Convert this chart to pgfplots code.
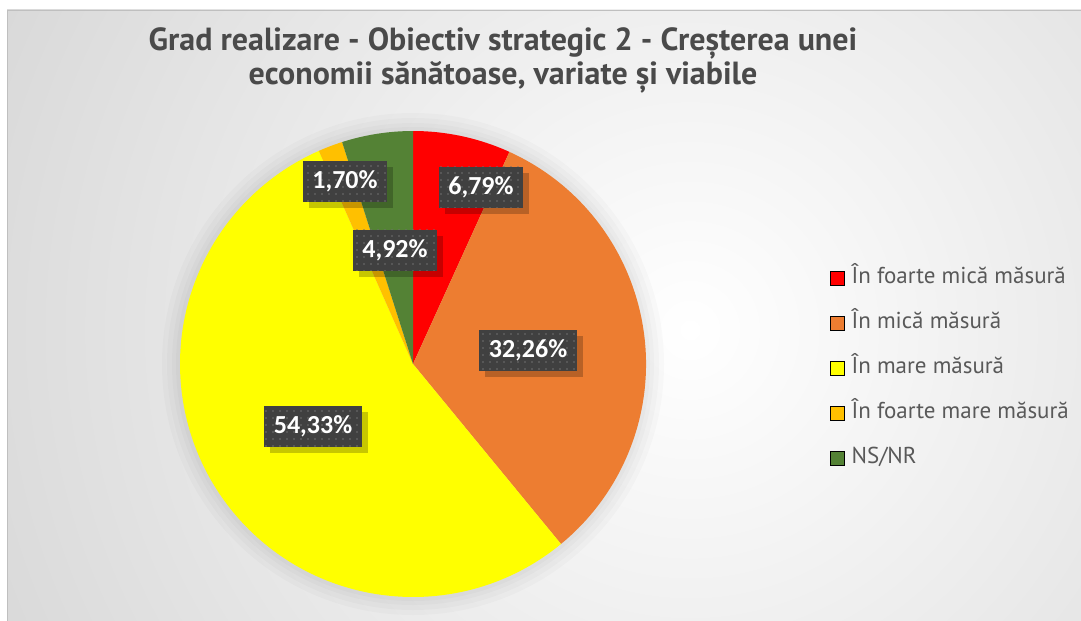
\documentclass[border=0pt]{standalone}
\usepackage{pgfplots}
\pgfplotsset{compat=1.18}
\usepackage{pgfplotstable}
\usepackage{fontspec}
\setmainfont{PT Sans}
\newfontfamily\labfont{Carlito}
\usetikzlibrary{shadows,patterns.meta}
\definecolor{cRed}{HTML}{FF0000}
\definecolor{cOrange}{HTML}{ED7D31}
\definecolor{cYellow}{HTML}{FFFF00}
\definecolor{cGold}{HTML}{FFC000}
\definecolor{cGreen}{HTML}{548235}
\definecolor{txt}{HTML}{595959}
\definecolor{ttl}{HTML}{4A4A4A}
\definecolor{lab}{HTML}{404040}
\definecolor{bgout}{HTML}{C0C0C0}

\pgfplotstableread{
idx value
0 6.79
1 32.26
2 54.33
3 1.70
4 4.92
}\piedata
\newcommand\pct[1]{\pgfmathprintnumber[fixed,fixed zerofill,precision=2,use comma,assume math mode=true]{#1}\%}

\begin{document}%
\begin{tikzpicture}
\pgfplotstablegetelem{0}{value}\of\piedata \let\vA\pgfplotsretval
\pgfplotstablegetelem{1}{value}\of\piedata \let\vB\pgfplotsretval
\pgfplotstablegetelem{2}{value}\of\piedata \let\vC\pgfplotsretval
\pgfplotstablegetelem{3}{value}\of\piedata \let\vD\pgfplotsretval
\pgfplotstablegetelem{4}{value}\of\piedata \let\vE\pgfplotsretval
\pgfmathsetmacro\aO{90}
\pgfmathsetmacro\aA{\aO-3.6*\vA}
\pgfmathsetmacro\aB{\aA-3.6*\vB}
\pgfmathsetmacro\aC{\aB-3.6*\vC}
\pgfmathsetmacro\aD{\aC-3.6*\vD}
\pgfmathsetmacro\aE{\aD-3.6*\vE}
\begin{axis}[
  name=ax, scale only axis, width=1081bp, height=621bp,
  xmin=0, xmax=1081, ymin=0, ymax=621, y dir=reverse,
  hide axis, clip=false,
  legend image code/.code={\fill[#1] (0bp,-7bp) rectangle (14bp,7bp);},
  legend cell align=left,
  legend style={at={(axis cs:830,368)}, anchor=west, draw=none, fill=none,
    inner sep=0pt, row sep=24bp, font=\fontsize{23bp}{27bp}\selectfont, text=txt,
    nodes={inner xsep=3bp, inner ysep=0bp, text height=16bp, text depth=5bp},
    /tikz/every odd column/.append style={column sep=4bp}},
]
% background
\fill[white] (axis cs:0,0) rectangle (axis cs:1081,621);
\begin{scope}
\clip (axis cs:7,10) rectangle (axis cs:1081,621);
\shade[inner color=white, outer color=bgout] (axis cs:690,330) circle (1250bp);
\end{scope}
\draw[black!25, line width=0.8bp] (axis cs:7,621) -- (axis cs:7,10) -- (axis cs:1081,10);
% pie glow
\fill[black, opacity=0.018] (axis cs:413,364) circle (251bp);
\fill[black, opacity=0.018] (axis cs:413,364) circle (246bp);
\fill[black, opacity=0.018] (axis cs:413,364) circle (241bp);
\fill[black, opacity=0.018] (axis cs:413,364) circle (237bp);
% pie
\fill[cRed]    (axis cs:413,364) -- ++(\aO:233bp) arc[start angle=\aO, end angle=\aA, radius=233bp] -- cycle;
\fill[cOrange] (axis cs:413,364) -- ++(\aA:233bp) arc[start angle=\aA, end angle=\aB, radius=233bp] -- cycle;
\fill[cYellow] (axis cs:413,364) -- ++(\aB:233bp) arc[start angle=\aB, end angle=\aC, radius=233bp] -- cycle;
\fill[cGold]   (axis cs:413,364) -- ++(\aC:233bp) arc[start angle=\aC, end angle=\aD, radius=233bp] -- cycle;
\fill[cGreen]  (axis cs:413,364) -- ++(\aD:233bp) arc[start angle=\aD, end angle=\aE, radius=233bp] -- cycle;
% labels
\tikzset{plab/.style={fill=lab, text=white, font=\labfont\bfseries\fontsize{26bp}{30bp}\selectfont,
  inner xsep=9.5bp, inner ysep=0bp, minimum height=41bp, text height=17bp, text depth=3bp,
  drop shadow={shadow xshift=6bp, shadow yshift=-6bp, opacity=0.22, fill=black},
  postaction={pattern={Dots[distance=7bp, radius=0.9bp]}, pattern color=white!25!lab}}}
\node[plab] at (axis cs:481,187) {\pct{\vA}};
\node[plab] at (axis cs:528,350) {\pct{\vB}};
\node[plab] at (axis cs:313,426) {\pct{\vC}};
\node[plab] at (axis cs:345,181) {\pct{\vD}};
\node[plab] at (axis cs:395,250) {\pct{\vE}};
% title
\node[align=center, text=ttl, font=\bfseries\fontsize{32bp}{34bp}\selectfont, anchor=base] at (axis cs:503,85)
  {Grad realizare - Obiectiv strategic 2 - Creșterea unei\\economii sănătoase, variate și viabile};
% legend
\addlegendimage{fill=cRed}
\addlegendentry{În foarte mică măsură}
\addlegendimage{fill=cOrange}
\addlegendentry{În mică măsură}
\addlegendimage{fill=cYellow}
\addlegendentry{În mare măsură}
\addlegendimage{fill=cGold}
\addlegendentry{În foarte mare măsură}
\addlegendimage{fill=cGreen}
\addlegendentry{NS/NR}
\end{axis}
\pgfresetboundingbox
\useasboundingbox (ax.south west) rectangle (ax.north east);
\end{tikzpicture}%
\end{document}
